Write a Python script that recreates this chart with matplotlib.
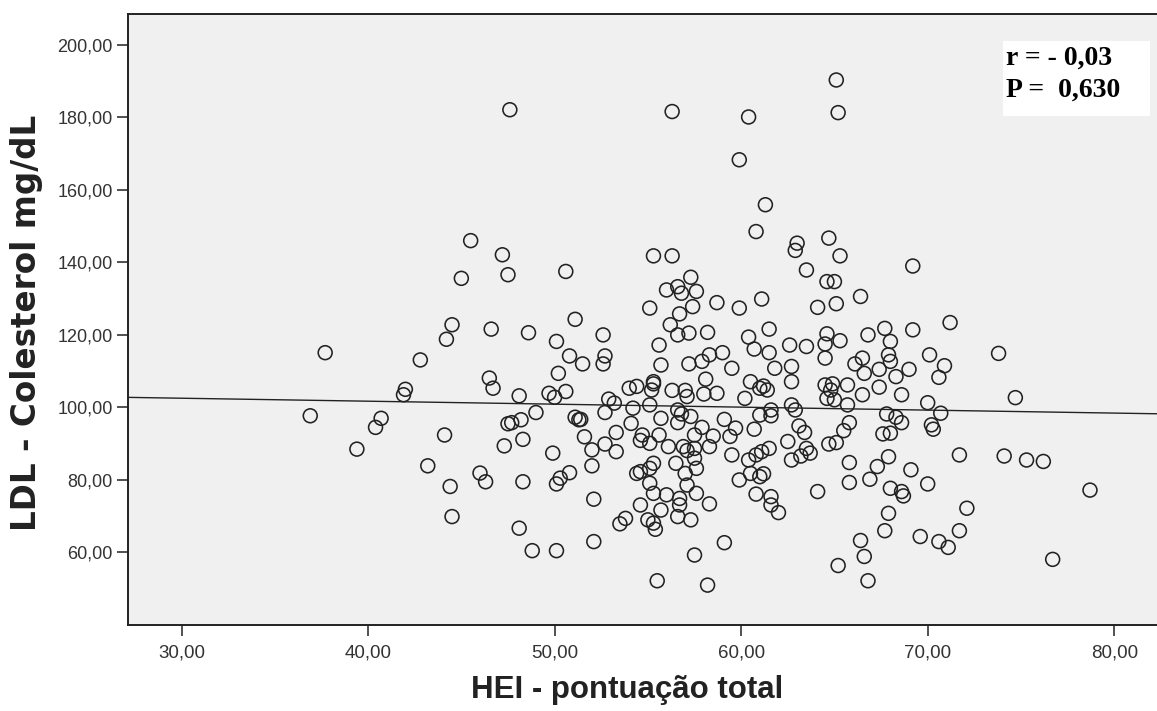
import matplotlib.pyplot as plt
import matplotlib.ticker as mtick
from matplotlib.patches import Rectangle

plt.rcParams["font.family"] = ["Liberation Sans", "DejaVu Sans"]

# ==========================================================
# 1. Data
# ==========================================================
hei_score = [
    # upper-left region
    47.6, 45.5, 47.2, 45.0, 47.5, 50.6, 51.1, 44.5, 44.2,
    # upper-centre region
    56.3, 60.4, 59.9, 61.3, 60.8, 55.3, 56.3, 57.3, 56.0, 56.6, 56.8, 57.6,
    57.4, 56.7, 55.1, 58.7, 59.9, 61.1,
    65.1, 65.2, 63.0, 62.9, 64.7, 65.3, 63.5, 69.2, 64.6, 65.0, 66.4, 64.1, 65.1,
    # left region
    37.7, 42.8, 42.0, 41.9, 36.9, 40.7, 40.4, 39.4, 44.1, 43.2, 44.4, 44.5,
    # 45-53
    46.6, 48.6, 52.6, 50.1, 50.8, 51.5, 52.7, 52.6, 50.2, 46.5, 46.7, 48.1,
    49.7, 50.0, 50.6, 52.9, 53.2, 49.0, 48.2, 47.7, 47.5, 51.1, 51.4, 51.3,
    52.7, 53.3, 51.6, 52.7, 53.3, 52.0, 52.0, 48.3, 47.3, 49.9, 46.0, 46.3,
    48.3, 50.8, 50.3, 50.1, 52.1, 48.1, 48.8, 50.1, 52.1,
    # 53-63 dense core
    56.2, 56.6, 57.2, 58.2, 60.4, 61.5, 55.6, 58.3, 59.0, 60.7, 61.5, 62.6,
    55.7, 57.2, 57.9, 59.5, 61.8, 62.7, 58.1, 55.3, 60.5, 62.7, 54.0, 54.4,
    55.2, 55.3, 56.3, 57.0, 57.1, 58.0, 58.7, 60.2, 61.0, 61.4, 61.2, 54.2,
    55.1, 55.7, 56.6, 56.8, 57.3, 61.0, 61.6, 61.6, 62.7, 54.1, 56.6, 57.9,
    59.1, 59.7, 60.7, 54.7, 54.6, 55.1, 55.6, 56.1, 57.5, 58.5, 59.4, 58.3,
    56.9, 57.1, 57.5, 62.5, 56.5, 57.5, 59.5, 60.4, 60.8, 61.1, 61.5, 62.7,
    55.3, 55.1, 54.6, 54.4, 57.0, 57.6, 59.9, 60.5, 61.0, 61.2, 55.1, 57.1,
    55.3, 54.6, 56.0, 56.7, 57.6, 56.7, 55.7, 58.3, 60.8, 61.6, 61.6, 62.0,
    53.8, 53.5, 55.0, 55.3, 55.4, 56.6, 57.3, 59.1, 57.5, 55.5, 58.2,
    # 63-72
    64.6, 66.8, 67.7, 68.0, 69.2, 71.2, 63.5, 64.5, 65.3, 64.5, 66.1, 66.5,
    66.6, 67.4, 67.9, 68.0, 68.3, 69.0, 70.1, 70.9, 70.6, 64.5, 64.8, 64.9,
    64.6, 65.0, 65.7, 66.5, 67.4, 68.6, 70.0, 70.7, 62.9, 65.7, 67.8, 68.3,
    68.6, 70.2, 70.3, 65.8, 65.5, 67.6, 68.0, 63.1, 63.4, 64.7, 65.1, 63.5,
    63.7, 63.2, 65.8, 67.9, 67.3, 69.1, 66.9, 65.8, 70.0, 68.0, 68.6, 68.7,
    64.1, 67.9, 67.7, 69.6, 70.6, 71.1, 66.4, 66.6, 65.2, 66.8,
    # right region
    73.8, 74.7, 71.7, 74.1, 75.3, 76.2, 78.7, 72.1, 71.7, 76.7,
]

ldl_colesterol = [
    182.1, 146.0, 142.1, 135.6, 136.6, 137.5, 124.3, 122.8, 118.8,
    181.6, 180.1, 168.3, 155.9, 148.5, 141.8, 141.8, 135.9, 132.4, 133.3, 131.5, 132.0,
    127.8, 125.8, 127.4, 128.9, 127.4, 129.9,
    190.3, 181.3, 145.3, 143.3, 146.7, 141.8, 137.9, 139.0, 134.7, 134.7, 130.6, 127.6, 128.6,
    115.1, 113.1, 105.0, 103.5, 97.7, 97.0, 94.5, 88.5, 92.4, 83.9, 78.2, 69.9,
    121.6, 120.6, 120.0, 118.2, 114.2, 112.0, 114.2, 112.0, 109.4, 108.1, 105.3, 103.2,
    103.9, 102.8, 104.4, 102.3, 101.2, 98.6, 96.6, 95.8, 95.5, 97.3, 96.7, 96.6,
    98.6, 93.1, 91.9, 89.9, 87.8, 88.3, 83.9, 91.2, 89.4, 87.4, 81.9, 79.5,
    79.5, 82.0, 80.5, 78.9, 74.7, 66.7, 60.5, 60.5, 63.0,
    122.8, 120.0, 120.5, 120.7, 119.4, 121.6, 117.2, 114.5, 115.1, 116.1, 115.1, 117.2,
    111.7, 112.0, 112.7, 110.8, 110.8, 111.3, 107.8, 107.1, 107.1, 107.1, 105.3, 105.8,
    104.8, 106.5, 104.7, 104.7, 103.0, 103.7, 103.9, 102.5, 105.3, 104.8, 105.9, 99.8,
    100.7, 97.0, 99.3, 98.2, 97.5, 97.9, 97.7, 99.3, 100.7, 95.6, 95.8, 94.5,
    96.7, 94.3, 94.0, 92.4, 90.9, 90.1, 92.4, 89.2, 92.4, 92.1, 92.0, 89.2,
    89.2, 88.1, 88.7, 90.6, 84.6, 86.0, 86.9, 85.5, 86.9, 87.8, 88.7, 85.5,
    84.6, 83.2, 82.3, 81.8, 81.8, 83.2, 80.0, 81.8, 80.9, 81.7, 79.1, 78.6,
    76.3, 73.1, 75.9, 74.9, 76.3, 73.1, 71.7, 73.4, 76.1, 75.4, 73.1, 71.0,
    69.4, 67.9, 69.0, 68.1, 66.4, 69.9, 69.0, 62.7, 59.3, 52.2, 51.0,
    120.3, 120.0, 121.8, 118.2, 121.4, 123.4, 116.8, 117.5, 118.4, 113.6, 112.0, 113.6,
    109.4, 110.5, 114.5, 112.7, 108.5, 110.5, 114.5, 111.5, 108.3, 106.2, 104.8, 106.5,
    102.5, 102.1, 106.2, 103.5, 105.6, 103.5, 101.3, 98.4, 99.3, 100.7, 98.2, 97.3,
    95.8, 95.2, 94.0, 95.8, 93.6, 92.7, 92.9, 94.9, 93.1, 89.9, 90.3, 88.7,
    87.4, 86.6, 84.8, 86.4, 83.7, 82.8, 80.2, 79.3, 78.9, 77.7, 76.8, 75.6,
    76.8, 70.8, 66.0, 64.4, 63.0, 61.4, 63.3, 58.9, 56.4, 52.2,
    114.9, 102.7, 86.9, 86.6, 85.5, 85.1, 77.2, 72.2, 66.0, 58.1,
]

# Fit line and annotation as shown in the chart
fit_intercept = 105.0
fit_slope = -0.082
r_text = "r = - 0,03"
p_text = "P =  0,630"

x_ticks = [30, 40, 50, 60, 70, 80]
y_ticks = [60, 80, 100, 120, 140, 160, 180, 200]

W, H = 1157, 711

# ==========================================================
# 2. Figure
# ==========================================================
fig = plt.figure(figsize=(W / 100, H / 100), dpi=100, facecolor="white")
ax = fig.add_axes([128 / W, 86 / H, 1031 / W, 611 / H])
ax.set_facecolor("#F0F0F0")

x_min, x_max = 27.13, 82.4
ax.set_xlim(x_min, x_max)
ax.set_ylim(40.0, 208.5)

# ==========================================================
# 3. Scatter + fit line
# ==========================================================
ax.scatter(
    hei_score,
    ldl_colesterol,
    s=100,
    facecolors="none",
    edgecolors="#222222",
    linewidths=1.15,
    zorder=3,
)

ax.plot(
    [x_min, x_max],
    [fit_intercept + fit_slope * x_min, fit_intercept + fit_slope * x_max],
    color="#222222",
    linewidth=1.0,
    zorder=2,
)

# ==========================================================
# 4. Axes styling
# ==========================================================
for side in ["left", "bottom", "top", "right"]:
    ax.spines[side].set_linewidth(1.4)
    ax.spines[side].set_color("#222222")

comma_fmt = mtick.FuncFormatter(lambda v, pos: f"{v:.2f}".replace(".", ","))
ax.set_xticks(x_ticks)
ax.set_yticks(y_ticks)
ax.xaxis.set_major_formatter(comma_fmt)
ax.yaxis.set_major_formatter(comma_fmt)

ax.tick_params(axis="both", direction="out", length=8, width=1.2, color="#333333")
ax.tick_params(axis="x", labelsize=13.5, pad=6, labelcolor="#333333")
ax.tick_params(axis="y", labelsize=13, pad=3, labelcolor="#333333")

ax.set_xlabel(
    "HEI - pontuação total",
    fontsize=22.5,
    fontweight="bold",
    color="#222222",
)
ax.xaxis.set_label_coords((626 - 128) / 1029, -(690 - 625) / 611)
ax.xaxis.label.set_va("center")

ax.set_ylabel(
    "LDL - Colesterol mg/dL",
    fontsize=23.5,
    fontweight="bold",
    family="DejaVu Sans",
    color="#222222",
)
ax.yaxis.set_label_coords(-(128 - 27) / 1029, (625 - 323) / 611)
ax.yaxis.label.set_va("center")

# ==========================================================
# 5. Correlation box
# ==========================================================
fig.patches.append(
    Rectangle(
        (1003 / W, 1 - 116 / H),
        (1150 - 1003) / W,
        (116 - 41) / H,
        transform=fig.transFigure,
        facecolor="white",
        edgecolor="none",
        zorder=5,
    )
)
for txt, y_px in [(r_text, 58), (p_text, 90)]:
    fig.text(
        1006 / W,
        1 - y_px / H,
        txt,
        ha="left",
        va="center",
        fontsize=20,
        fontweight="bold",
        family="Liberation Serif",
        zorder=6,
    )

fig.savefig("out.png", dpi=100, facecolor="white")
